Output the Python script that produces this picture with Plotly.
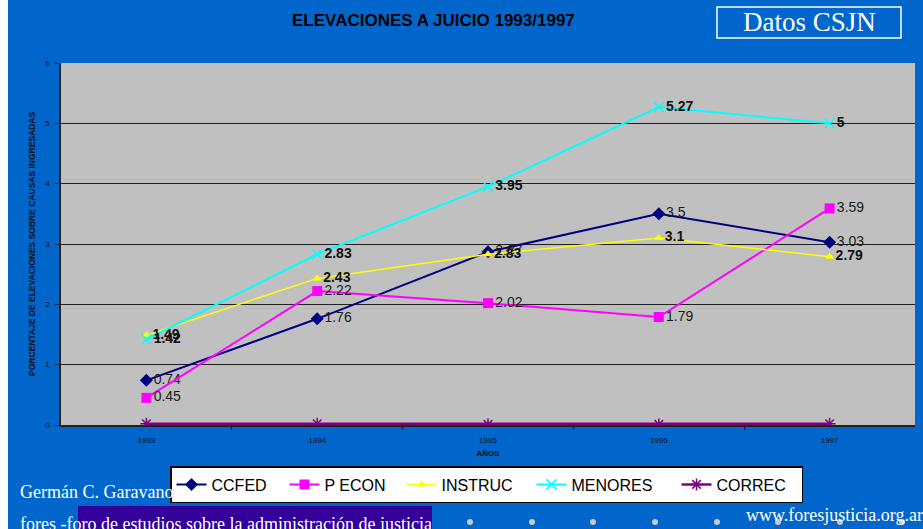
import plotly.graph_objects as go

years = [1993, 1994, 1995, 1996, 1997]
ccfed = [0.74, 1.76, 2.87, 3.5, 3.03]
pecon = [0.45, 2.22, 2.02, 1.79, 3.59]
instruc = [1.49, 2.43, 2.83, 3.1, 2.79]
menores = [1.42, 2.83, 3.95, 5.27, 5]
correc = [0.02, 0.02, 0.01, 0.01, 0.02]
year_labels = ["1993", "1994", "1995", "1996", "1997"]

OFFX = 8                      # page left margin kept as in the reference
W, H = 923 - OFFX, 529
# plot area in screen pixels
L, R, T, B = 61, 915, 63, 425


def px(x):
    return (x - L) / (R - L)


def py(y):
    return (B - y) / (B - T)


fig = go.Figure()


def lbl(vals):
    return [str(v) for v in vals]


fig.add_trace(go.Scatter(
    x=years, y=ccfed, name="CCFED", mode="lines+markers+text", legendwidth=68,
    line=dict(color="#000080", width=2),
    marker=dict(symbol="diamond", size=10, color="#000080"),
    text=lbl(ccfed), textposition="middle right",
    textfont=dict(family="Arial", size=14, color="#1a1a1a")))
fig.add_trace(go.Scatter(
    x=years, y=pecon, name="P ECON", mode="lines+markers+text", legendwidth=72,
    line=dict(color="#FF00FF", width=2),
    marker=dict(symbol="square", size=10, color="#FF00FF"),
    text=lbl(pecon), textposition="middle right",
    textfont=dict(family="Arial", size=14, color="#1a1a1a")))
fig.add_trace(go.Scatter(
    x=years, y=instruc, name="INSTRUC", mode="lines+markers+text", legendwidth=85,
    line=dict(color="#FFFF00", width=1.5),
    marker=dict(symbol="triangle-up", size=8, color="#FFFF00"),
    text=lbl(instruc), textposition="middle right",
    textfont=dict(family="Arial", size=14, color="#111111", weight="bold")))
fig.add_trace(go.Scatter(
    x=years, y=menores, name="MENORES", mode="lines+markers+text", legendwidth=100,
    line=dict(color="#00FFFF", width=2),
    marker=dict(symbol="x-thin-open", size=10, color="#00FFFF", line=dict(width=1.5, color="#00FFFF")),
    text=lbl(menores), textposition="middle right",
    textfont=dict(family="Arial", size=14, color="#111111", weight="bold")))
fig.add_trace(go.Scatter(
    x=years, y=correc, name="CORREC", mode="lines+markers", legendwidth=80,
    line=dict(color="#800080", width=2.5),
    marker=dict(symbol="asterisk-open", size=10, color="#800080", line=dict(width=1.5, color="#800080"))))

fig.update_layout(
    width=W, height=H, autosize=False,
    margin=dict(l=L - OFFX, r=(W + OFFX) - R, t=T, b=H - B, pad=0),
    paper_bgcolor="#0066CC", plot_bgcolor="#C0C0C0",
    showlegend=True,
    legend=dict(orientation="h", x=px(170), y=py(466), xanchor="left", yanchor="top",
                bgcolor="white", bordercolor="black", borderwidth=1.5,
                font=dict(family="Arial", size=16, color="black"),
                itemwidth=30, tracegroupgap=0),
    xaxis=dict(range=[1992.5, 1997.5], tickmode="array", tickvals=years, ticktext=year_labels,
               showgrid=False, zeroline=False, showline=True, linecolor="#222", linewidth=1.5,
               ticks="", ticklabelstandoff=7, tickfont=dict(family="Arial", size=8, color="#111"),
               minor=dict(tickmode="array", tickvals=[1993.5, 1994.5, 1995.5, 1996.5],
                          ticks="outside", ticklen=3, tickcolor="#111"),
               title=dict(text="<b>AÑOS</b>", font=dict(family="Arial", size=8, color="#111"), standoff=6),
               fixedrange=True),
    yaxis=dict(range=[0, 6], tickmode="array", tickvals=[0, 1, 2, 3, 4, 5, 6],
               showgrid=True, gridcolor="#222", gridwidth=1, zeroline=False,
               showline=True, linecolor="#222", linewidth=1.5,
               ticks="outside", ticklen=4, tickcolor="#222", ticklabelstandoff=4,
               tickfont=dict(family="Arial", size=8, color="#111")),
    shapes=[
        dict(type="rect", xref="paper", yref="paper", x0=px(717), x1=px(901), y0=py(7), y1=py(38),
             line=dict(color="white", width=1.5), fillcolor="rgba(0,0,0,0)"),
        dict(type="rect", xref="paper", yref="paper", x0=px(78), x1=px(432), y0=py(506), y1=py(535),
             line=dict(width=0), fillcolor="#330099", layer="below"),
    ] + [
        dict(type="circle", xref="paper", yref="paper", x0=px(cx - 3), x1=px(cx + 3), y0=py(519), y1=py(525),
             line=dict(width=0), fillcolor="#C8C8C8")
        for cx in [470, 532, 593, 655, 717, 778, 840, 902]
    ],
    annotations=[
        dict(text="<b>ELEVACIONES A JUICIO 1993/1997</b>", xref="paper", yref="paper",
             x=px(433), y=py(20), xanchor="center", yanchor="middle", showarrow=False,
             font=dict(family="Arial", size=17, color="black")),
        dict(text="Datos CSJN", xref="paper", yref="paper", x=px(809), y=py(22),
             xanchor="center", yanchor="middle", showarrow=False,
             font=dict(family="Liberation Serif", size=27, color="white")),
        dict(text="<b>PORCENTAJE DE ELEVACIONES SOBRE CAUSAS INGRESADAS</b>", xref="paper", yref="paper",
             x=px(32), y=py(244), xanchor="center", yanchor="middle", textangle=-90, showarrow=False,
             font=dict(family="Arial", size=8.5, color="#111")),
        dict(text="Germán C. Garavano", xref="paper", yref="paper", x=px(18), y=py(492),
             xanchor="left", yanchor="middle", showarrow=False,
             font=dict(family="Liberation Serif", size=18, color="white")),
        dict(text="fores -foro de estudios sobre la administración de justicia", xref="paper", yref="paper",
             x=px(18), y=py(524), xanchor="left", yanchor="middle", showarrow=False,
             font=dict(family="Liberation Serif", size=18, color="white")),
        dict(text="www.foresjusticia.org.ar", xref="paper", yref="paper", x=px(744), y=py(515),
             xanchor="left", yanchor="middle", showarrow=False,
             font=dict(family="Liberation Serif", size=18, color="white")),
    ],
)

fig.write_html("out.html", post_script="document.body.style.margin='0px 0px 0px %dpx';" % OFFX)
